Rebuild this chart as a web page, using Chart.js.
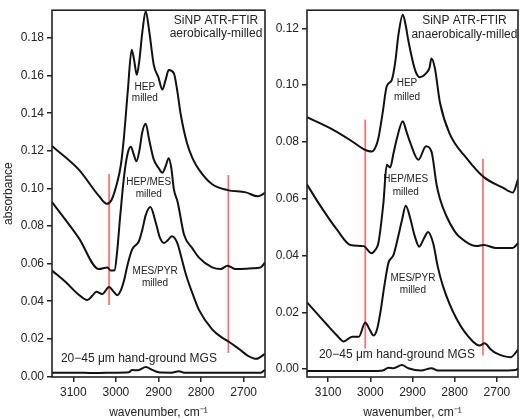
<!DOCTYPE html>
<html>
<head>
<meta charset="utf-8">
<script src="https://cdn.jsdelivr.net/npm/chart.js@4.4.0/dist/chart.umd.min.js"></script>
<style>
  html, body { margin: 0; padding: 0; background: #fff; }
  #wrap { position: relative; width: 521px; height: 420px; }
  .panel { position: absolute; top: 0; height: 420px; }
  #leftBox { left: 0; width: 268px; }
  #rightBox { left: 268px; width: 253px; }
</style>
</head>
<body>
<div id="wrap">
  <div class="panel" id="leftBox"><canvas id="leftChart"></canvas></div>
  <div class="panel" id="rightBox"><canvas id="rightChart"></canvas></div>
</div>
<script>
// x ticks shared by both panels (wavenumber, cm-1)
const xTicks = [3100, 3000, 2900, 2800, 2700];
const leftYTicks = [0, 0.02, 0.04, 0.06, 0.08, 0.10, 0.12, 0.14, 0.16, 0.18];
const rightYTicks = [0, 0.02, 0.04, 0.06, 0.08, 0.10, 0.12];

// aerobically-milled spectra: [wavenumber, absorbance]
const aerHep = [[3150,0.1226],[3087,0.110],[3040,0.096],[3021,0.0918],[3010,0.094],[2997,0.1031],[2988,0.113],
  [2981,0.1276],[2972,0.152],[2963,0.1738],[2957,0.168],[2951,0.1604],[2945,0.168],[2938,0.183],[2930,0.1943],
  [2922,0.184],[2911,0.1656],[2900,0.159],[2891,0.1526],[2883,0.158],[2876,0.163],[2864,0.1613],[2856,0.152],
  [2848,0.1396],[2833,0.124],[2820,0.116],[2805,0.110],[2774,0.1022],[2738,0.0991],[2695,0.0979],[2667,0.0958],[2650,0.0976]];
const aerHepMes = [[3150,0.0927],[3087,0.0736],[3040,0.0571],[3020,0.058],[3012,0.0563],[3003,0.0565],[2997,0.0667],
  [2990,0.085],[2980,0.108],[2972,0.119],[2965,0.1222],[2958,0.118],[2952,0.1144],[2945,0.120],[2938,0.130],[2930,0.1344],
  [2922,0.126],[2911,0.1153],[2900,0.111],[2891,0.1083],[2883,0.112],[2876,0.1161],[2870,0.111],[2864,0.0996],
  [2855,0.0927],[2840,0.0754],[2820,0.068],[2805,0.0632],[2774,0.058],[2754,0.0571],[2738,0.0589],[2719,0.0571],
  [2680,0.0575],[2660,0.058],[2650,0.0606]];
const aerMesPyr = [[3150,0.0563],[3118,0.0502],[3090,0.044],[3067,0.0406],[3055,0.043],[3046,0.045],[3032,0.0438],
  [3016,0.0476],[3005,0.045],[2997,0.0432],[2988,0.046],[2981,0.051],[2972,0.060],[2962,0.0675],[2946,0.0719],
  [2938,0.078],[2930,0.0858],[2919,0.0901],[2907,0.0823],[2897,0.074],[2887,0.071],[2878,0.0725],[2869,0.0745],
  [2856,0.071],[2846,0.063],[2836,0.0545],[2820,0.044],[2805,0.0354],[2774,0.025],[2750,0.0205],[2738,0.0189],
  [2711,0.0146],[2690,0.011],[2670,0.0094],[2650,0.012]];
const aerMgs = [[3150,0.002],[3100,0.002],[3050,0.0018],[3000,0.002],[2970,0.0022],[2962,0.0034],[2948,0.0033],
  [2930,0.005],[2915,0.0035],[2900,0.0022],[2870,0.002],[2852,0.0028],[2840,0.002],[2800,0.002],[2700,0.002],
  [2660,0.002],[2650,0.0035]];
const aerRed = [[[3016,0.1077],[3016,0.038]], [[2736,0.1072],[2736,0.0125]]];

// anaerobically-milled spectra
const anHep = [[3150,0.0887],[3086,0.0841],[3047,0.0806],[3016,0.0775],[2997,0.0766],[2988,0.078],[2981,0.0812],
  [2971,0.090],[2961,0.0996],[2949,0.1019],[2941,0.108],[2933,0.1181],[2923,0.1248],[2916,0.121],[2910,0.1158],
  [2894,0.1054],[2883,0.1028],[2867,0.1043],[2860,0.106],[2855,0.1094],[2847,0.106],[2835,0.0939],[2812,0.0829],
  [2772,0.0743],[2731,0.0676],[2686,0.0639],[2662,0.0622],[2650,0.0668]];
const anHepMes = [[3150,0.065],[3121,0.0581],[3078,0.0489],[3047,0.0437],[3016,0.0433],[2997,0.0408],[2988,0.042],
  [2981,0.0443],[2969,0.0584],[2961,0.072],[2953,0.071],[2945,0.076],[2937,0.0812],[2923,0.0873],[2915,0.084],
  [2906,0.080],[2886,0.0737],[2868,0.0785],[2855,0.0766],[2843,0.065],[2835,0.060],[2820,0.054],[2800,0.0485],
  [2789,0.0466],[2749,0.0433],[2731,0.0437],[2702,0.0426],[2663,0.0426],[2650,0.0443]];
const anMesPyr = [[3150,0.0235],[3102,0.0155],[3080,0.012],[3063,0.0097],[3043,0.0114],[3027,0.0114],[3012,0.0164],
  [3002,0.014],[2992,0.0118],[2984,0.014],[2976,0.0201],[2966,0.030],[2957,0.0374],[2945,0.0402],[2935,0.046],
  [2925,0.0524],[2916,0.0575],[2906,0.0535],[2895,0.047],[2884,0.0431],[2873,0.046],[2863,0.0483],[2851,0.0443],
  [2840,0.036],[2828,0.0293],[2796,0.0178],[2757,0.0097],[2741,0.0083],[2729,0.0091],[2715,0.007],[2702,0.0056],
  [2667,0.0042],[2650,0.0068]];
const anMgs = [[3150,-0.0007],[3000,-0.0007],[2970,-0.0005],[2957,0.0005],[2945,0.0003],[2925,0.0014],[2910,0.0003],
  [2880,-0.0005],[2855,0.0003],[2840,-0.0005],[2700,-0.0005],[2655,-0.0003],[2650,0.0003]];
const anRed = [[[3012,0.0879],[3012,0.0072]], [[2733,0.0741],[2733,0.0048]]];

// text notes: [text, wavenumber, absorbance, font size]
const aerNotes = [['SiNP ATR-FTIR',2765,0.1894,12],['aerobically-milled',2765,0.1821,12],
  ['HEP',2932,0.154,10],['milled',2932,0.1478,10],['HEP/MES',2923,0.1035,10],['milled',2923,0.0968,10],
  ['MES/PYR',2908,0.0557,10],['milled',2908,0.0494,10],['20\u221245 \u03bcm hand-ground MGS',2946,0.0094,12]];
const anNotes = [['SiNP ATR-FTIR',2777,0.1228,12],['anaerobically-milled',2777,0.1179,12],
  ['HEP',2913,0.1007,10],['milled',2913,0.0959,10],['HEP/MES',2916,0.0669,10],['milled',2916,0.0624,10],
  ['MES/PYR',2899,0.0321,10],['milled',2899,0.0276,10],['20\u221245 \u03bcm hand-ground MGS',2937,0.0052,12]];

Chart.defaults.font.family = '"Liberation Sans", Arial, sans-serif';
Chart.defaults.color = '#222';

const toXY = arr => arr.map(p => ({ x: p[0], y: p[1] }));

const framePlugin = {
    id: 'frame',
    afterDatasetsDraw(chart) {
        const { ctx, chartArea: a } = chart;
        ctx.save();
        ctx.strokeStyle = '#222';
        ctx.lineWidth = 1.6;
        ctx.strokeRect(a.left, a.top, a.right - a.left, a.bottom - a.top);
        ctx.restore();
    }
};

const notesPlugin = {
    id: 'notes',
    afterDraw(chart, args, opts) {
        const { ctx, scales } = chart;
        ctx.save();
        ctx.fillStyle = '#222';
        ctx.textAlign = 'center';
        ctx.textBaseline = 'middle';
        (opts.items || []).forEach(n => {
            ctx.font = n[3] + 'px "Liberation Sans", Arial, sans-serif';
            ctx.fillText(n[0], scales.x.getPixelForValue(n[1]), scales.y.getPixelForValue(n[2]));
        });
        ctx.restore();
    }
};

function makePanel(id, curves, reds, notes, yMin, yMax, yTicks, yWidth, yTitle) {
    const datasets = curves.map(c => ({
        data: toXY(c),
        borderColor: '#111',
        borderWidth: 2,
        cubicInterpolationMode: 'monotone',
        pointRadius: 0,
        fill: false
    }));
    reds.forEach(r => datasets.push({
        data: toXY(r),
        borderColor: '#ff6b6b',
        borderWidth: 1.7,
        pointRadius: 0,
        fill: false
    }));

    new Chart(document.getElementById(id), {
        type: 'line',
        data: { datasets: datasets },
        options: {
            responsive: true,
            maintainAspectRatio: false,
            animation: false,
            layout: { padding: { top: 3, right: 3, bottom: 0, left: 0 } },
            plugins: {
                legend: { display: false },
                tooltip: { enabled: false },
                notes: { items: notes }
            },
            scales: {
                x: {
                    type: 'linear',
                    reverse: true,
                    min: 2650,
                    max: 3150,
                    afterBuildTicks: s => { s.ticks = xTicks.map(v => ({ value: v })); },
                    afterFit: s => { s.height = 43; },
                    grid: { drawOnChartArea: false, color: '#222', lineWidth: 1.5, tickLength: 5 },
                    border: { display: false },
                    ticks: { color: '#222', font: { size: 12 }, padding: 3, maxRotation: 0, callback: v => String(v) },
                    title: { display: true, text: 'wavenumber, cm\u207b\u00b9', color: '#222', font: { size: 12 }, padding: { top: 0, bottom: 0 } }
                },
                y: {
                    min: yMin,
                    max: yMax,
                    afterBuildTicks: s => { s.ticks = yTicks.map(v => ({ value: v })); },
                    afterFit: s => { s.width = yWidth; },
                    grid: { drawOnChartArea: false, color: '#222', lineWidth: 1.5, tickLength: 5 },
                    border: { display: false },
                    ticks: { color: '#222', font: { size: 12 }, padding: 3, callback: v => v.toFixed(2) },
                    title: { display: yTitle, text: 'absorbance', color: '#222', font: { size: 12 }, padding: { top: 1, bottom: 0 } }
                }
            }
        },
        plugins: [framePlugin, notesPlugin]
    });
}

makePanel('leftChart', [aerHep, aerHepMes, aerMesPyr, aerMgs], aerRed, aerNotes, -0.0003, 0.1948, leftYTicks, 52, true);
makePanel('rightChart', [anHep, anHepMes, anMesPyr, anMgs], anRed, anNotes, -0.0028, 0.1264, rightYTicks, 39, false);
</script>
</body>
</html>
